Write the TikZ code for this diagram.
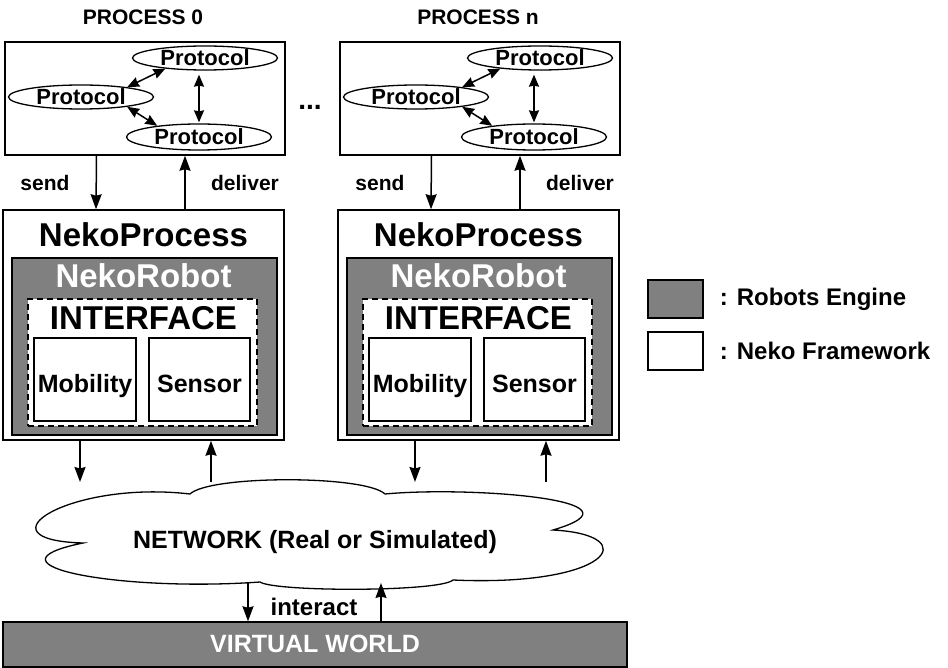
\documentclass[tikz,border=0pt]{standalone}
\usepackage{fontspec}
\setmainfont{Liberation Sans}
\usetikzlibrary{arrows.meta, shapes.geometric, positioning}
\definecolor{engine}{gray}{0.5}
\newcommand{\fsz}[1]{\fontsize{#1}{#1}\selectfont\bfseries}

\begin{document}
\begin{tikzpicture}[x=1pt, y=1pt,
  box/.style={draw, line width=1.5pt, inner sep=0pt},
  proto/.style={draw, ellipse, line width=1.3pt, minimum width=145pt, minimum height=24pt, inner sep=0pt, font=\fsz{22}},
  link/.style={line width=1.5pt, {Stealth[length=12pt,width=10pt,inset=1pt]}-{Stealth[length=12pt,width=10pt,inset=1pt]}},
  flow/.style={-{Stealth[length=15pt,width=11pt,inset=1.5pt]}, line width=1.5pt},
  txt/.style={anchor=base, inner sep=0pt},
  legtxt/.style={font=\fsz{24}, inner sep=0pt}]
  \useasboundingbox (0,0) rectangle (948,-668);

  % process 0
  \begin{scope}
    \node[txt, font=\fsz{21}] (title0) at (143,-25) {PROCESS 0};
    \node[box, minimum width=280pt, minimum height=113pt] (proc0) at (145,-98.5) {};
    \node[proto] (pa0) at (205,-58) {Protocol};
    \node[proto] (pb0) at (81,-97) {Protocol};
    \node[proto, minimum height=26pt] (pc0) at (199,-137) {Protocol};
    \draw[link] (pb0.12) -- (pa0.195);
    \draw[link] (pb0.-12) -- (pc0.165);
    \draw[link, shorten <=4pt, shorten >=1pt] (pc0.north |- pa0.south) -- (pc0.north);
    \node[box, minimum width=281pt, minimum height=230pt] (neko0) at (143.5,-325) {};
    \draw[flow] ([xshift=-48.5pt]proc0.south) -- ([xshift=-47.5pt]neko0.north);
    \draw[flow] ([xshift=41.5pt]neko0.north) -- ([xshift=40pt]proc0.south);
    \node[txt, font=\fsz{21}] (send0) at (45,-191) {send};
    \node[txt, font=\fsz{21}] (dlv0) at (245,-191) {deliver};
    \node[txt, font=\fsz{33}] (nekotxt0) at (143.5,-247) {NekoProcess};
    \node[box, fill=engine, minimum width=265pt, minimum height=177pt] (robot0) at (144.5,-346.5) {};
    \node[txt, font=\fsz{33}, text=white] (robottxt0) at (143.5,-288) {NekoRobot};
    \node[box, fill=white, dash pattern=on 6pt off 4pt, minimum width=229pt, minimum height=127pt] (iface0) at (142.5,-362.5) {};
    \node[txt, font=\fsz{33}] (ifacetxt0) at (143.5,-330) {INTERFACE};
    \node[box, minimum width=102pt, minimum height=83pt] (mob0) at (85,-379.5) {};
    \node[box, minimum width=101pt, minimum height=83pt] (sens0) at (199.5,-379.5) {};
    \node[txt, font=\fsz{25}] (mobtxt0) at (85,-392) {Mobility};
    \node[txt, font=\fsz{25}] (senstxt0) at (199.5,-392) {Sensor};
    \coordinate (outa0) at (80,-482);
    \coordinate (outb0) at (211,-482);
    \draw[flow] (outa0 |- neko0.south) -- (outa0);
    \draw[flow] (outb0) -- (outb0 |- neko0.south);
  \end{scope}

  \node[txt, font=\fsz{28}] (dots) at (310,-110) {...};

  % process n
  \begin{scope}[xshift=335pt]
    \node[txt, font=\fsz{21}] (titlen) at (143,-25) {PROCESS n};
    \node[box, minimum width=280pt, minimum height=113pt] (procn) at (145,-98.5) {};
    \node[proto] (pan) at (205,-58) {Protocol};
    \node[proto] (pbn) at (81,-97) {Protocol};
    \node[proto, minimum height=26pt] (pcn) at (199,-137) {Protocol};
    \draw[link] (pbn.12) -- (pan.195);
    \draw[link] (pbn.-12) -- (pcn.165);
    \draw[link, shorten <=4pt, shorten >=1pt] (pcn.north |- pan.south) -- (pcn.north);
    \node[box, minimum width=281pt, minimum height=230pt] (nekon) at (143.5,-325) {};
    \draw[flow] ([xshift=-48.5pt]procn.south) -- ([xshift=-47.5pt]nekon.north);
    \draw[flow] ([xshift=41.5pt]nekon.north) -- ([xshift=40pt]procn.south);
    \node[txt, font=\fsz{21}] (sendn) at (45,-191) {send};
    \node[txt, font=\fsz{21}] (dlvn) at (245,-191) {deliver};
    \node[txt, font=\fsz{33}] (nekotxtn) at (143.5,-247) {NekoProcess};
    \node[box, fill=engine, minimum width=265pt, minimum height=177pt] (robotn) at (144.5,-346.5) {};
    \node[txt, font=\fsz{33}, text=white] (robottxtn) at (143.5,-288) {NekoRobot};
    \node[box, fill=white, dash pattern=on 6pt off 4pt, minimum width=229pt, minimum height=127pt] (ifacen) at (142.5,-362.5) {};
    \node[txt, font=\fsz{33}] (ifacetxtn) at (143.5,-330) {INTERFACE};
    \node[box, minimum width=102pt, minimum height=83pt] (mobn) at (85,-379.5) {};
    \node[box, minimum width=101pt, minimum height=83pt] (sensn) at (199.5,-379.5) {};
    \node[txt, font=\fsz{25}] (mobtxtn) at (85,-392) {Mobility};
    \node[txt, font=\fsz{25}] (senstxtn) at (199.5,-392) {Sensor};
    \coordinate (outan) at (80,-482);
    \coordinate (outbn) at (211,-482);
    \draw[flow] (outan |- nekon.south) -- (outan);
    \draw[flow] (outbn) -- (outbn |- nekon.south);
  \end{scope}

  % network cloud
  \draw[line width=1.3pt, fill=white] (83,-543)
    .. controls (-25,-540) and (70,-480) .. (190,-494)
    .. controls (210,-475) and (365,-475) .. (385,-494)
    .. controls (470,-486) and (655,-500) .. (553,-530)
    .. controls (645,-535) and (610,-587) .. (453,-580)
    .. controls (440,-592) and (275,-592) .. (260,-582)
    .. controls (120,-592) and (-25,-565) .. cycle;
  \node[txt, font=\fsz{25}] (net) at (315,-548) {NETWORK (Real or Simulated)};

  % virtual world
  \node[box, fill=engine, minimum width=624pt, minimum height=45pt] (world) at (315,-644.5) {};
  \node[txt, font=\fsz{25}, text=white] (worldtxt) at (315,-652) {VIRTUAL WORLD};
  \coordinate (cla) at (248,-582);
  \coordinate (clb) at (381,-583);
  \draw[flow] (cla) -- (cla |- world.north);
  \draw[flow] (clb |- world.north) -- (clb);
  \node[txt, font=\fsz{24}] (inter) at (314,-615) {interact};

  % legend
  \node[box, fill=engine, minimum width=55pt, minimum height=38pt] (legeng) at (675.5,-299) {};
  \node[box, minimum width=55pt, minimum height=38pt] (legneko) at (675.5,-351) {};
  \node[legtxt, right=16pt of legeng] (legengtxt) {: Robots Engine};
  \node[legtxt, right=16pt of legneko] (legnekotxt) {: Neko Framework};
\end{tikzpicture}
\end{document}
